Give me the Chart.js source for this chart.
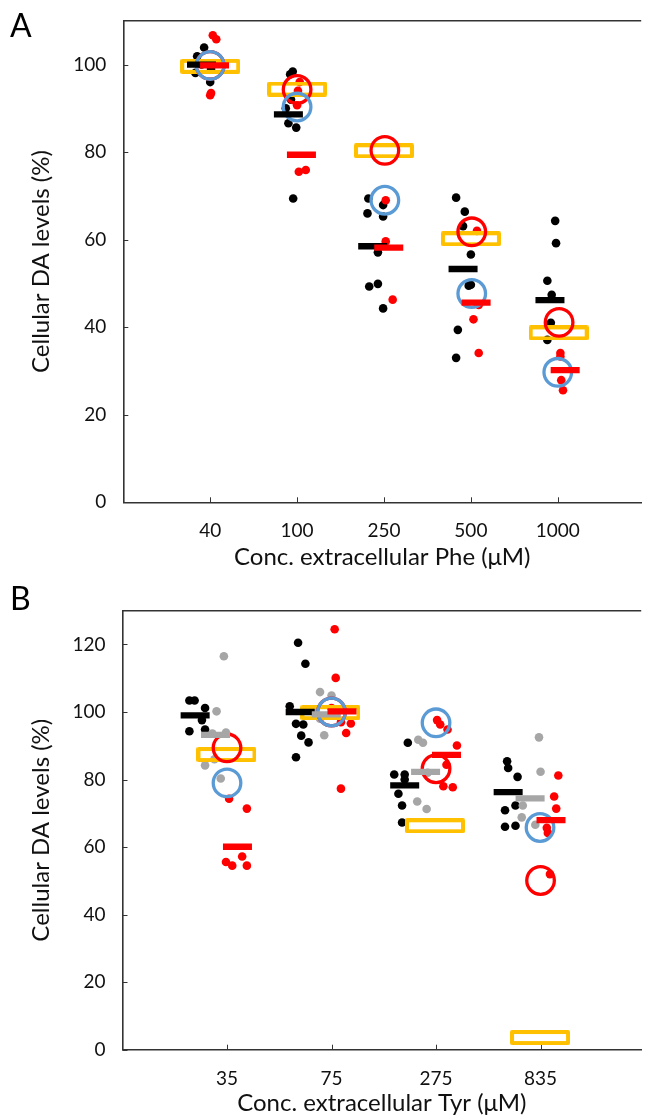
<!DOCTYPE html>
<html>
<head>
<meta charset="utf-8">
<script src="https://cdn.jsdelivr.net/npm/chart.js@4.4.1/dist/chart.umd.min.js"></script>
<style>
  html, body { margin: 0; padding: 0; background: #fff; overflow: hidden; }
  #page { position: relative; width: 662px; height: 1118px; }
  canvas { position: absolute; left: 0; }
  .panel-label { position: absolute; font-family: Lato, sans-serif; font-size: 32px; line-height: 1; color: #000; }
</style>
</head>
<body>
<div id="page">
  <canvas id="chart-a" width="662" height="580" style="top:0"></canvas>
  <canvas id="chart-b" width="662" height="538" style="top:580px"></canvas>
  <div class="panel-label" style="left:10px; top:9px">A</div>
  <div class="panel-label" style="left:10px; top:582px">B</div>
</div>
<script>
// ---- panel A: Phe ----
const pheLabels = ['40', '100', '250', '500', '1000'];
const pheYTicks = [0, 20, 40, 60, 80, 100];

// [x position (category index + jitter), value]
const pheBlackDots = [
  [0.93, 103.9], [0.85, 101.9], [0.83, 98.1], [1.0, 96.0], [0.9, 100], [1.01, 99],
  [1.92, 97.8], [1.95, 98.4], [1.9, 86.6], [1.99, 85.6], [1.955, 69.4], [1.87, 90], [1.93, 92],
  [2.82, 69.4], [2.99, 67.9], [2.81, 66.0], [2.99, 65.3], [2.93, 57.1], [2.83, 49.3], [2.93, 49.9], [2.99, 44.3],
  [3.83, 69.6], [3.93, 66.4], [3.91, 63.1], [4.0, 56.6], [3.975, 49.5], [4.0, 49.7], [3.85, 39.4], [3.83, 33.0],
  [4.97, 64.3], [4.98, 59.2], [4.88, 50.6], [4.93, 47.4], [4.92, 41.0], [4.88, 37.1]
];
const pheRedDots = [
  [1.03, 106.7], [1.07, 105.8], [1.01, 93.5], [1.0, 93.0],
  [2.02, 75.5], [2.1, 75.9], [2.0, 90.7], [2.01, 94], [2.03, 96],
  [3.02, 69.0], [3.02, 59.6], [3.1, 46.3],
  [4.07, 62.0], [4.09, 45.1], [4.03, 41.8], [4.09, 34.1],
  [5.03, 34.1], [5.03, 33.3], [5.04, 27.9], [5.06, 25.6]
];
const pheBlackMean = [[0.9, 100], [1.9, 88.6], [2.87, 58.5], [3.91, 53.3], [4.91, 46.2]];
const pheRedMean = [[1.05, 99.8], [2.05, 79.4], [3.055, 58.2], [4.06, 45.6], [5.085, 30.2]];
const pheYellow = [[1.0, 99.6], [2.0, 94.4], [3.0, 80.3], [4.0, 60.2], [5.01, 38.7]];
const pheRedRing = [[1.0, 99.8], [2.0, 94.3], [3.01, 80.4], [4.01, 61.8], [5.015, 41.1]];
const pheBlueRing = [[1.0, 99.8], [2.0, 90.3], [3.01, 69.0], [4.01, 47.7], [5.0, 29.7]];

// ---- panel B: Tyr ----
const tyrLabels = ['35', '75', '275', '835'];
const tyrYTicks = [0, 20, 40, 60, 80, 100, 120];

const tyrBlackDots = [
  [0.64, 103.4], [0.69, 103.4], [0.79, 101.2], [0.76, 97.6], [0.64, 94.3], [0.79, 94.8],
  [1.68, 120.5], [1.75, 114.3], [1.6, 101.7], [1.66, 96.5], [1.73, 96.3], [1.71, 93.0], [1.78, 91.0], [1.66, 86.6],
  [2.73, 90.9], [2.6, 81.5], [2.7, 81.5], [2.64, 75.8], [2.675, 72.3], [2.675, 67.3], [2.7, 80],
  [3.68, 85.4], [3.69, 83.4], [3.78, 80.8], [3.66, 70.9], [3.76, 72.3], [3.66, 66.0], [3.76, 66.3]
];
const tyrGreyDots = [
  [0.97, 116.5], [0.9, 100.2], [0.79, 84.2], [0.94, 80.3], [0.86, 93.6], [0.99, 93.9], [0.88, 86],
  [1.89, 105.9], [2.0, 104.9], [1.93, 93.1], [1.84, 99.8], [1.89, 98],
  [2.83, 91.8], [2.875, 90.9], [2.82, 73.5], [2.91, 71.3], [2.92, 82],
  [3.985, 92.5], [4.0, 82.3], [3.83, 72.3], [3.82, 68.8], [3.95, 66.6]
];
const tyrRedDots = [
  [1.02, 74.3], [1.19, 71.4], [0.99, 55.6], [1.05, 54.5], [1.145, 57.2], [1.19, 54.5],
  [2.03, 124.5], [2.04, 110.1], [2.0, 101.2], [2.09, 97.0], [2.185, 96.6], [2.14, 93.8], [2.09, 77.3],
  [3.01, 97.6], [3.04, 96.3], [3.11, 94.8], [3.2, 90.1], [3.1, 84.4], [3.07, 78.0], [3.16, 77.7],
  [4.17, 81.2], [4.13, 75.0], [4.15, 71.4], [4.06, 65.7], [4.07, 64.2], [4.09, 52.0]
];
const tyrBlackMean = [[0.695, 99.0], [1.7, 100.0], [2.7, 78.3], [3.69, 76.3]];
const tyrGreyMean = [[0.89, 93.2], [1.95, 99.3], [2.9, 82.3], [3.9, 74.4]];
const tyrRedMean = [[1.1, 60.1], [2.1, 100.2], [3.1, 87.3], [4.1, 68.0]];
const tyrYellow = [[0.995, 87.4], [1.99, 99.8], [2.99, 66.3], [3.995, 3.6]];
const tyrRedRing = [[1.0, 89.4], [2.0, 100.0], [3.0, 83.2], [4.0, 50.1]];
const tyrBlueRing = [[1.0, 79.0], [2.0, 100.0], [3.0, 96.8], [3.995, 65.8]];

const BLACK = '#000000', RED = '#ff0000', GREY = '#a6a6a6', YELLOW = '#ffc000', BLUE = '#5b9bd5';
const AXIS = '#333333';

function pts(arr) { return arr.map(p => ({x: p[0], y: p[1]})); }

function yellowBox() {
  const c = document.createElement('canvas');
  c.width = 60; c.height = 15;
  const g = c.getContext('2d');
  g.strokeStyle = YELLOW; g.lineWidth = 4; g.lineJoin = 'round';
  g.strokeRect(2, 2, 56, 11);
  return c;
}
const boxImg = yellowBox();

function dots(data, color) {
  return {data: pts(data), pointStyle: 'circle', pointRadius: 4.3, backgroundColor: color, borderColor: color, borderWidth: 0};
}
function mean(data, color) {
  return {data: pts(data), pointStyle: 'line', pointRadius: 14.5, borderColor: color, borderWidth: 6.3};
}
function ring(data, color) {
  return {data: pts(data), pointStyle: 'circle', pointRadius: 13.8, backgroundColor: 'rgba(0,0,0,0)', borderColor: color, borderWidth: 3.3};
}
function box(data) {
  return {data: pts(data), pointStyle: boxImg, pointRadius: 8};
}

// top frame line and inward tick marks
const framePlugin = {
  id: 'frame',
  beforeDatasetsDraw(chart) {
    const {ctx, chartArea: a, scales: {x, y}} = chart;
    ctx.save();
    ctx.strokeStyle = AXIS;
    ctx.lineWidth = 1.6;
    ctx.beginPath();
    ctx.moveTo(a.left, a.top);
    ctx.lineTo(a.right, a.top);
    ctx.stroke();
    ctx.lineWidth = 1;
    ctx.beginPath();
    y.ticks.forEach(t => {
      const py = Math.round(y.getPixelForValue(t.value)) + 0.5;
      ctx.moveTo(a.left, py); ctx.lineTo(a.left + 5, py);
    });
    x.ticks.forEach(t => {
      const px = Math.round(x.getPixelForValue(t.value)) + 0.5;
      ctx.moveTo(px, a.bottom); ctx.lineTo(px, a.bottom - 5);
    });
    ctx.stroke();
    ctx.restore();
  }
};

function makeChart(id, cfg) {
  const ctx = document.getElementById(id).getContext('2d');
  return new Chart(ctx, {
    type: 'scatter',
    data: {datasets: cfg.datasets},
    plugins: [framePlugin],
    options: {
      responsive: false,
      animation: false,
      events: [],
      layout: {padding: {left: 0, right: 0, top: cfg.top, bottom: 0}},
      plugins: {legend: {display: false}, tooltip: {enabled: false}},
      scales: {
        x: {
          type: 'linear', min: 0, max: cfg.xMax,
          grid: {display: false},
          border: {display: true, color: AXIS, width: 1.6},
          afterBuildTicks: s => { s.ticks = cfg.labels.map((l, i) => ({value: i + 1})); },
          afterFit: s => { s.height = cfg.xHeight; },
          ticks: {
            padding: cfg.xPad, color: '#111',
            font: {family: 'Lato', size: 19},
            callback: v => cfg.labels[v - 1]
          },
          title: {
            display: true, text: cfg.xTitle, color: '#111',
            font: {family: 'Lato', size: 24},
            padding: {top: 0, bottom: cfg.xTitlePad}
          }
        },
        y: {
          type: 'linear', min: 0, max: cfg.yMax,
          grid: {display: false},
          border: {display: true, color: AXIS, width: 1.6},
          afterBuildTicks: s => { s.ticks = cfg.yTicks.map(v => ({value: v})); },
          afterFit: s => { s.width = cfg.left; },
          ticks: {padding: 9, color: '#111', font: {family: 'Lato', size: 19}},
          title: {
            display: true, text: 'Cellular DA levels (%)', color: '#111',
            font: {family: 'Lato', size: 24},
            padding: {top: 27, bottom: 0}
          }
        }
      }
    }
  });
}

makeChart('chart-a', {
  top: 20.7, left: 123.3, xHeight: 77.7, xMax: 5.96, yMax: 110, xPad: 9, xTitlePad: 8,
  labels: pheLabels, yTicks: pheYTicks,
  xTitle: 'Conc. extracellular Phe (\u03bcM)',
  datasets: [
    mean(pheRedMean, RED),
    mean(pheBlackMean, BLACK),
    ring(pheBlueRing, BLUE),
    ring(pheRedRing, RED),
    box(pheYellow),
    dots(pheRedDots, RED),
    dots(pheBlackDots, BLACK)
  ]
});

makeChart('chart-b', {
  top: 30.7, left: 122.5, xHeight: 68.3, xMax: 4.963, yMax: 130, xPad: 10, xTitlePad: 0,
  labels: tyrLabels, yTicks: tyrYTicks,
  xTitle: 'Conc. extracellular Tyr (\u03bcM)',
  datasets: [
    mean(tyrRedMean, RED),
    mean(tyrGreyMean, GREY),
    mean(tyrBlackMean, BLACK),
    ring(tyrBlueRing, BLUE),
    ring(tyrRedRing, RED),
    box(tyrYellow),
    dots(tyrRedDots, RED),
    dots(tyrGreyDots, GREY),
    dots(tyrBlackDots, BLACK)
  ]
});
</script>
</body>
</html>
